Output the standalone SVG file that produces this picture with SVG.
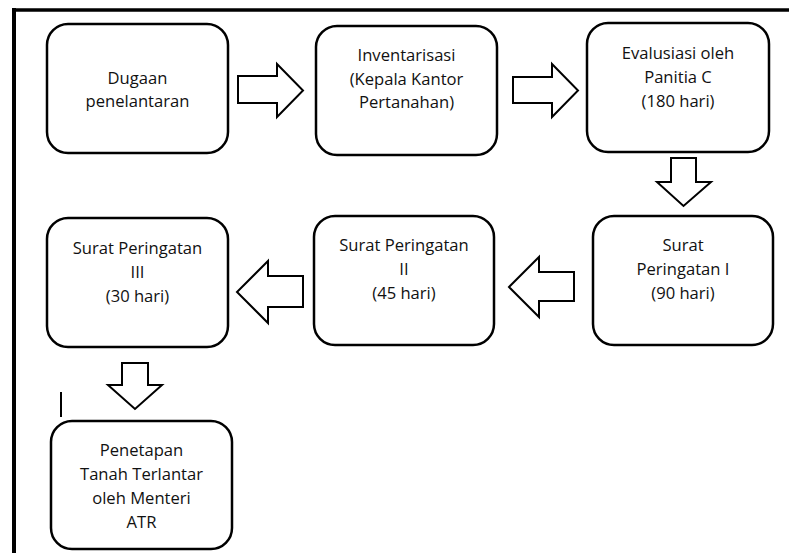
<svg xmlns="http://www.w3.org/2000/svg" width="789" height="553" viewBox="0 0 789 553">
<style>
.box{fill:#fff;stroke:#000;stroke-width:2.5}
.arr{fill:#fff;stroke:#000;stroke-width:2;stroke-linejoin:miter}
text{font-family:"Open Sans","Noto Sans",sans-serif;font-size:16.6px;fill:#111;text-anchor:middle}
</style>
<rect width="789" height="553" fill="#fff"/>
<g id="frame">
<line x1="14" y1="8" x2="14" y2="553" stroke="#000" stroke-width="4"/>
<line x1="12" y1="10" x2="789" y2="10" stroke="#000" stroke-width="3.5"/>
<line x1="61" y1="392" x2="61" y2="417" stroke="#000" stroke-width="2"/>
</g>
<g id="connectors">
<polygon class="arr" points="238,76 277,76 277,64 303,90.5 277,117 277,103 238,103"/>
<polygon class="arr" points="513,77 552,77 552,64 578,90.5 552,117 552,103 513,103"/>
<polygon class="arr" points="671,158 696,158 696,182 711,182 683.5,206 657,182 671,182"/>
<polygon class="arr" points="574,272 539,272 539,257 509,287 539,317 539,301 574,301"/>
<polygon class="arr" points="303,276 268,276 268,261 237,292 268,323 268,307 303,307"/>
<polygon class="arr" points="122,363 148,363 148,385 162,385 135,409 108,385 122,385"/>
</g>
<g id="n1">
<rect class="box" x="47" y="24" width="181" height="129" rx="21"/>
<text x="137.5" y="84">Dugaan</text>
<text x="137.5" y="107">penelantaran</text>
</g>
<g id="n2">
<rect class="box" x="316" y="26" width="181" height="129" rx="21"/>
<text x="406.5" y="61">Inventarisasi</text>
<text x="406.5" y="84.5">(Kepala Kantor</text>
<text x="406.5" y="108">Pertanahan)</text>
</g>
<g id="n3">
<rect class="box" x="587" y="23" width="182" height="129" rx="21"/>
<text x="678" y="58.5">Evalusiasi oleh</text>
<text x="678" y="82.5">Panitia C</text>
<text x="678" y="106.5">(180 hari)</text>
</g>
<g id="n4">
<rect class="box" x="47" y="218" width="181" height="129" rx="21"/>
<text x="137.5" y="254">Surat Peringatan</text>
<text x="137.5" y="278">III</text>
<text x="137.5" y="302">(30 hari)</text>
</g>
<g id="n5">
<rect class="box" x="314" y="216" width="180" height="129" rx="21"/>
<text x="404" y="250.5">Surat Peringatan</text>
<text x="404" y="274.5">II</text>
<text x="404" y="298.5">(45 hari)</text>
</g>
<g id="n6">
<rect class="box" x="593" y="216" width="180" height="129" rx="21"/>
<text x="683" y="251">Surat</text>
<text x="683" y="275">Peringatan I</text>
<text x="683" y="299">(90 hari)</text>
</g>
<g id="n7">
<rect class="box" x="51" y="421" width="181" height="128" rx="21"/>
<text x="141.5" y="456">Penetapan</text>
<text x="141.5" y="480">Tanah Terlantar</text>
<text x="141.5" y="504">oleh Menteri</text>
<text x="141.5" y="528">ATR</text>
</g>
</svg>
